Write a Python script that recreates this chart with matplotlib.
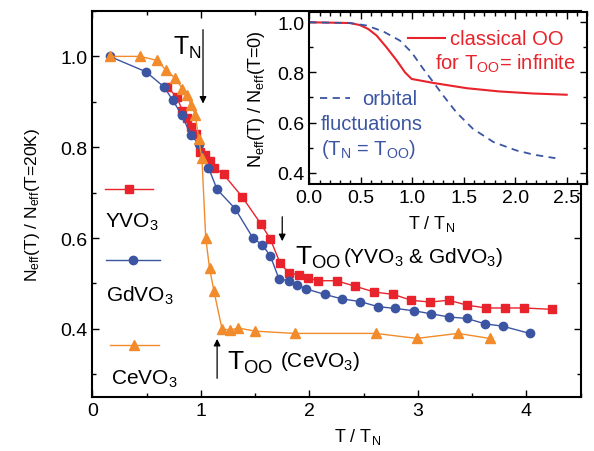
import matplotlib
import matplotlib.pyplot as plt
from matplotlib.ticker import MultipleLocator, FormatStrFormatter

matplotlib.use('Agg')

plt.rcParams['font.family'] = ['Liberation Sans', 'DejaVu Sans']
plt.rcParams['mathtext.fontset'] = 'custom'
plt.rcParams['mathtext.rm'] = 'Liberation Sans'
plt.rcParams['mathtext.it'] = 'Liberation Sans'
plt.rcParams['mathtext.default'] = 'regular'

RED = '#e8232b'
BLUE = '#3b55a3'
ORANGE = '#f18b2b'

# main panel: T/T_N and N_eff(T)/N_eff(T=20K)
yvo_x = [0.69, 0.78, 0.83, 0.87, 0.91, 0.955, 0.995, 1.035, 1.083, 1.125, 1.21,
         1.38, 1.556, 1.64, 1.728, 1.81, 1.90, 1.99, 2.08, 2.25, 2.42, 2.60,
         2.77, 2.94, 3.11, 3.285, 3.457, 3.63, 3.80, 3.975, 4.235]
yvo_y = [0.933, 0.91, 0.88, 0.864, 0.845, 0.829, 0.79, 0.782, 0.769, 0.755, 0.74,
         0.691, 0.63, 0.598, 0.546, 0.523, 0.519, 0.512, 0.506, 0.506, 0.494, 0.481,
         0.476, 0.463, 0.459, 0.463, 0.452, 0.446, 0.446, 0.446, 0.443]

gdvo_x = [0.16, 0.495, 0.66, 0.74, 0.824, 0.908, 0.983, 1.07, 1.15, 1.315, 1.48,
          1.565, 1.64, 1.72, 1.81, 1.89, 1.97, 2.14, 2.30, 2.47, 2.63, 2.79,
          2.96, 3.125, 3.29, 3.45, 3.62, 3.78, 4.03]
gdvo_y = [1.0, 0.966, 0.933, 0.904, 0.871, 0.827, 0.806, 0.755, 0.707, 0.665, 0.60,
          0.585, 0.561, 0.51, 0.506, 0.497, 0.488, 0.476, 0.466, 0.46, 0.449, 0.445,
          0.44, 0.433, 0.426, 0.423, 0.411, 0.406, 0.39]

cevo_x = [0.16, 0.44, 0.60, 0.68, 0.76, 0.83, 0.87, 0.91, 0.95, 0.98, 1.01,
          1.045, 1.08, 1.12, 1.195, 1.27, 1.345, 1.50, 1.864, 2.61, 2.99, 3.37, 3.66]
cevo_y = [1.0, 1.0, 0.991, 0.969, 0.953, 0.929, 0.915, 0.893, 0.871, 0.818, 0.776,
          0.60, 0.534, 0.484, 0.40, 0.397, 0.402, 0.395, 0.39, 0.39, 0.379, 0.39, 0.379]

# inset: model curves N_eff(T)/N_eff(T=0)
oo_x = [0.0, 0.395, 0.49, 0.573, 0.654, 0.75, 0.85, 0.93, 0.994, 1.205, 1.53,
        1.85, 2.17, 2.5]
oo_y = [1.0, 0.997, 0.989, 0.973, 0.947, 0.9, 0.847, 0.80, 0.774, 0.758, 0.737,
        0.724, 0.716, 0.711]

fl_x = [0.0, 0.395, 0.557, 0.72, 0.88, 0.994, 1.107, 1.205, 1.30, 1.43, 1.59,
        1.79, 2.01, 2.18, 2.39]
fl_y = [1.0, 0.997, 0.987, 0.963, 0.927, 0.88, 0.814, 0.761, 0.708, 0.64, 0.575,
        0.522, 0.489, 0.472, 0.458]


def style_axes(ax):
    for s in ax.spines.values():
        s.set_linewidth(1.5)
    ax.tick_params(which='both', direction='in', top=True, right=True,
                   labelsize=14, width=1)
    ax.tick_params(which='major', length=5)
    ax.tick_params(which='minor', length=3)


fig = plt.figure(figsize=(5.94, 4.52), dpi=100)
ax = fig.add_axes([0.1554, 0.1195, 0.8222, 0.854])

ax.plot(yvo_x, yvo_y, '-s', color=RED, ms=5.5, lw=1)
ax.plot(gdvo_x, gdvo_y, '-o', color=BLUE, ms=6, lw=1)
ax.plot(cevo_x, cevo_y, '-^', color=ORANGE, ms=7, lw=1)

ax.set_xlim(0, 4.5)
ax.set_ylim(0.25, 1.1)
ax.xaxis.set_major_locator(MultipleLocator(1))
ax.xaxis.set_minor_locator(MultipleLocator(0.5))
ax.yaxis.set_major_locator(MultipleLocator(0.2))
ax.yaxis.set_minor_locator(MultipleLocator(0.1))
ax.xaxis.set_major_formatter(FormatStrFormatter('%d'))
ax.yaxis.set_major_formatter(FormatStrFormatter('%.1f'))
style_axes(ax)
ax.set_xlabel('T / T$_{\\rm N}$', fontsize=13)
ax.xaxis.set_label_coords(0.544, -0.075)
ax.set_ylabel('N$_{\\rm eff}$(T) / N$_{\\rm eff}$(T=20K)', fontsize=12.5)
ax.yaxis.set_label_coords(-0.103, 0.5)

# hand-made legend down the left side
ax.plot([0.026, 0.124], [0.539, 0.539], '-', color=RED, lw=1, transform=ax.transAxes)
ax.plot([0.075], [0.539], 's', color=RED, ms=5.5, transform=ax.transAxes)
ax.text(0.026, 0.44, 'YVO$_3$', fontsize=15, transform=ax.transAxes)
ax.plot([0.028, 0.139], [0.356, 0.356], '-', color=BLUE, lw=1, transform=ax.transAxes)
ax.plot([0.083], [0.356], 'o', color=BLUE, ms=6, transform=ax.transAxes)
ax.text(0.029, 0.25, 'GdVO$_3$', fontsize=15, transform=ax.transAxes)
ax.plot([0.036, 0.137], [0.135, 0.135], '-', color=ORANGE, lw=1, transform=ax.transAxes)
ax.plot([0.086], [0.135], '^', color=ORANGE, ms=7, transform=ax.transAxes)
ax.text(0.038, 0.035, 'CeVO$_3$', fontsize=15, transform=ax.transAxes)

# annotations
arrow = dict(arrowstyle='-|>', color='black', lw=0.9, mutation_scale=10)
ax.annotate('', xy=(1.02, 0.89), xytext=(1.02, 1.065), arrowprops=arrow)
ax.text(0.74, 1.005, 'T$_{\\rm N}$', fontsize=18)
ax.annotate('', xy=(1.75, 0.587), xytext=(1.75, 0.653), arrowprops=arrow)
ax.text(1.865, 0.543, 'T$_{\\rm OO}$', fontsize=19)
ax.text(2.31, 0.547, '(YVO$_3$ & GdVO$_3$)', fontsize=15)
ax.annotate('', xy=(1.15, 0.384), xytext=(1.15, 0.285), arrowprops=arrow)
ax.text(1.24, 0.313, 'T$_{\\rm OO}$', fontsize=19)
ax.text(1.73, 0.318, '(CeVO$_3$)', fontsize=15)

# inset
ins = fig.add_axes([0.5207, 0.5907, 0.468, 0.38])
ins.plot(oo_x, oo_y, '-', color=RED, lw=1.5)
ins.plot(fl_x, fl_y, '--', color=BLUE, lw=1.3, dashes=(4, 3))
ins.set_xlim(0, 2.7)
ins.set_ylim(0.355, 1.04)
ins.xaxis.set_major_locator(MultipleLocator(0.5))
ins.xaxis.set_minor_locator(MultipleLocator(0.1))
ins.yaxis.set_major_locator(MultipleLocator(0.2))
ins.yaxis.set_minor_locator(MultipleLocator(0.1))
ins.xaxis.set_major_formatter(FormatStrFormatter('%.1f'))
ins.yaxis.set_major_formatter(FormatStrFormatter('%.1f'))
style_axes(ins)
ins.set_xlabel('T / T$_{\\rm N}$', fontsize=13)
ins.xaxis.set_label_coords(0.44, -0.17)
ins.set_ylabel('N$_{\\rm eff}$(T) / N$_{\\rm eff}$(T=0)', fontsize=13)
ins.yaxis.set_label_coords(-0.152, 0.5)

ins.plot([0.958, 1.32], [0.937, 0.937], '-', color=RED, lw=1.5)
ins.text(1.366, 0.914, 'classical OO', color=RED, fontsize=14.5)
ins.text(1.22, 0.814, 'for T$_{\\rm OO}$= infinite', color=RED, fontsize=14.5)
ins.plot([0.10, 0.395], [0.698, 0.698], '--', color=BLUE, lw=1.3, dashes=(4, 3))
ins.text(0.51, 0.674, 'orbital', color=BLUE, fontsize=14.5)
ins.text(0.114, 0.575, 'fluctuations', color=BLUE, fontsize=14.5)
ins.text(0.114, 0.475, '(T$_{\\rm N}$ = T$_{\\rm OO}$)', color=BLUE, fontsize=14.5)

fig.savefig('out.png', dpi=100)
